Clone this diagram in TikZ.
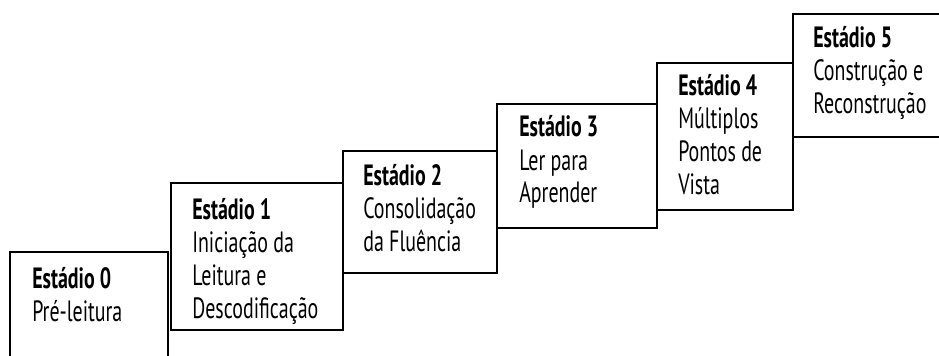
\documentclass[tikz,border=0pt]{standalone}
\usepackage{fontspec}
\setmainfont[FakeStretch=0.68]{PT Sans}
\newcommand\letraestadio{\fontsize{22}{24.75}\selectfont\lineskiplimit=-20pt\relax}
\begin{document}
\begin{tikzpicture}[x=0.75pt, y=-0.75pt]
        \tikzset{degrau/.style={draw=black, line width=1.4pt}};
        \tikzset{texto/.style={anchor=base west, inner sep=0pt, align=left, font=\letraestadio}};
        \useasboundingbox (0, 0) rectangle (939, 356);
        \clip (0, 0) rectangle (939, 356);

        \draw[degrau] (10, 252) rectangle (168, 380);
        \draw[degrau] (171, 183) rectangle (343, 330);
        \draw[degrau] (343, 151) rectangle (497, 273);
        \draw[degrau] (497, 104) rectangle (657, 228);
        \draw[degrau] (657, 63) rectangle (793, 210);
        \draw[degrau] (793, 14) rectangle (960, 137);

        % ancorados na linha de base da ultima linha
        \node[texto] (e0) at (32, 321) {\textbf{Estádio 0}\\Pré-leitura};
        \node[texto] (e1) at (192, 318) {\textbf{Estádio 1}\\Iniciação da\\Leitura e\\Descodificação};
        \node[texto] (e2) at (363, 251) {\textbf{Estádio 2}\\Consolidação\\da Fluência};
        \node[texto] (e3) at (519, 203) {\textbf{Estádio 3}\\Ler para\\Aprender};
        \node[texto] (e4) at (678, 195) {\textbf{Estádio 4}\\Múltiplos\\Pontos de\\Vista};
        \node[texto] (e5) at (813, 114) {\textbf{Estádio 5}\\Construção e\\Reconstrução};
    \end{tikzpicture}
\end{document}
